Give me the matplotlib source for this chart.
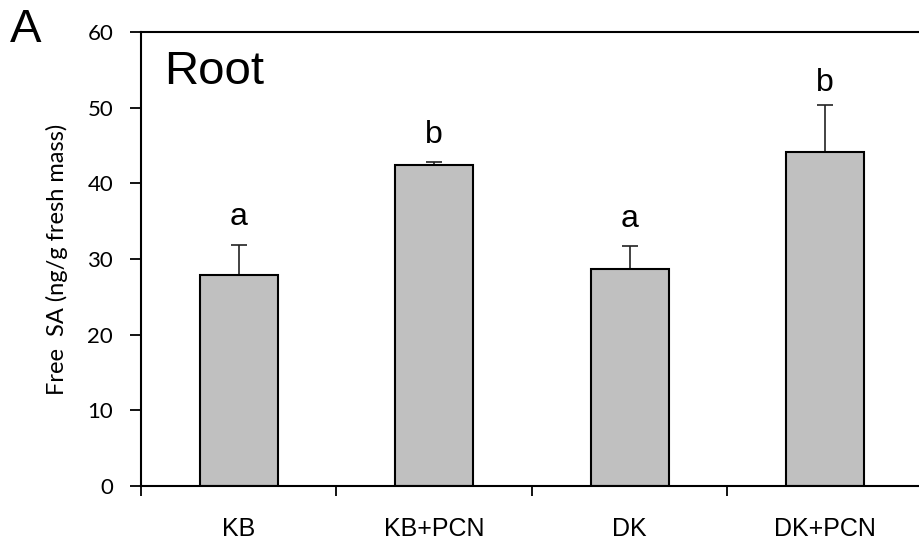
import matplotlib
matplotlib.use("Agg")
import matplotlib.pyplot as plt
import numpy as np

plt.rcParams['font.family'] = ['Liberation Sans', 'DejaVu Sans']

groups = ["KB", "KB+PCN", "DK", "DK+PCN"]
means = [27.9, 42.4, 28.7, 44.2]
errors = [3.9, 0.4, 3.0, 6.1]
letters = ["a", "b", "a", "b"]
letter_y = [35.6, 46.4, 35.3, 53.3]

fig = plt.figure(figsize=(9.2, 5.43), dpi=100)
ax = fig.add_axes([141 / 920, (543 - 486) / 543, 782 / 920, 454 / 543])

x = np.arange(len(groups)) + 0.5
ax.bar(x, means, width=0.4, color='#c0c0c0', edgecolor='black', linewidth=1.5, zorder=2)
ax.errorbar(x, means, yerr=[np.zeros(len(errors)), errors], fmt='none',
            ecolor='#222222', elinewidth=1.2, capsize=6, capthick=1.2, zorder=1)

for xi, lab, ly in zip(x, letters, letter_y):
    ax.text(xi, ly, lab, ha='center', va='center', fontsize=23)

ax.set_xlim(0, 4)
ax.set_ylim(0, 60)
ax.set_yticks(range(0, 61, 10))
ax.set_yticklabels([str(v) for v in range(0, 61, 10)], family=['Lato', 'DejaVu Sans'], fontsize=16)
ax.set_xticks(range(0, 4))
ax.set_xticklabels([])
ax.set_xticks(x, minor=True)
ax.set_xticklabels(groups, minor=True, fontsize=18)
ax.tick_params(axis='x', which='major', direction='out', length=7, width=1.3)
ax.tick_params(axis='x', which='minor', length=0, pad=22)
ax.tick_params(axis='y', direction='out', length=8, width=1.3, pad=12)

ax.spines['right'].set_visible(False)
for s in ['left', 'bottom', 'top']:
    ax.spines[s].set_linewidth(1.5)

ax.set_ylabel("Free  SA (ng/g fresh mass)", fontsize=17, labelpad=14,
              family=['Lato', 'DejaVu Sans'])

ax.text(0.03, 0.96, "Root", transform=ax.transAxes, fontsize=34, va='top', ha='left')
fig.text(10 / 920, 1 - 8 / 543, "A", fontsize=34, va='top', ha='left')

fig.savefig("out.png", dpi=100)
